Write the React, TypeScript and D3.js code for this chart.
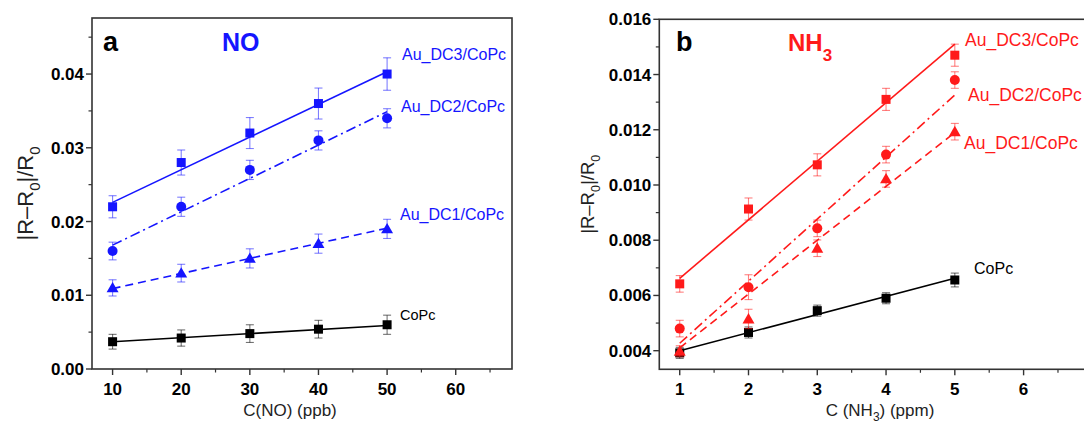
import React from "react";
import * as d3 from "d3";

// ---- Panel a (NO) data ----
const noX = [10, 20, 30, 40, 50];
const noCoPc = [0.0037, 0.0042, 0.0048, 0.0054, 0.006];
const noCoPcErr = [0.001, 0.0011, 0.0012, 0.0012, 0.0013];
const noDC1 = [0.011, 0.013, 0.015, 0.017, 0.019];
const noDC1Err = [0.0011, 0.0012, 0.0013, 0.0013, 0.0013];
const noDC2 = [0.016, 0.022, 0.027, 0.031, 0.034];
const noDC2Err = [0.0012, 0.0013, 0.0013, 0.0013, 0.0013];
const noDC3 = [0.022, 0.028, 0.032, 0.036, 0.04];
const noDC3Err = [0.0015, 0.0017, 0.0021, 0.0021, 0.0022];
const noFitCoPc = [0.0037, 0.0059];
const noFitDC1 = [0.0109, 0.0191];
const noFitDC2 = [0.0168, 0.0349];
const noFitDC3 = [0.0226, 0.0403];
const noXTicks = [10, 20, 30, 40, 50, 60];
const noYTicks = [0, 0.01, 0.02, 0.03, 0.04];

// ---- Panel b (NH3) data ----
const nhX = [1, 2, 3, 4, 5];
const nhCoPc = [0.00392, 0.00466, 0.00545, 0.0059, 0.00656];
const nhCoPcErr = [0.0002, 0.0002, 0.0002, 0.0002, 0.00025];
const nhDC1 = [0.00398, 0.00515, 0.00771, 0.01022, 0.01193];
const nhDC1Err = [0.0002, 0.00035, 0.0003, 0.0003, 0.0003];
const nhDC2 = [0.0048, 0.0063, 0.00843, 0.0111, 0.0138];
const nhDC2Err = [0.0003, 0.00045, 0.0003, 0.0003, 0.0003];
const nhDC3 = [0.00642, 0.00913, 0.01073, 0.0131, 0.0147];
const nhDC3Err = [0.0003, 0.0004, 0.0004, 0.0004, 0.0004];
const nhFitCoPc = [0.004, 0.00662];
const nhFitDC1 = [0.0041, 0.0119];
const nhFitDC2 = [0.00427, 0.01326];
const nhFitDC3 = [0.00662, 0.0151];
const nhXTicks = [1, 2, 3, 4, 5, 6];
const nhYTicks = [0.004, 0.006, 0.008, 0.01, 0.012, 0.014, 0.016];

const FONT = "'Liberation Sans', Arial, sans-serif";
const BLUE = "#1515ff";
const RED = "#ff1a1a";
const BLACK = "#000000";
const AXIS = "#333333";

type Series = {
  ys: number[];
  err: number[];
  fit: number[];
  marker: "square" | "circle" | "triangle";
  color: string;
  dash: string | undefined;
  label: string;
  lx: number;
  ly: number;
  lsize: number;
};

function Marker({ kind, x, y, color }: { kind: string; x: number; y: number; color: string }) {
  if (kind === "square") return <rect x={x - 4.5} y={y - 4.5} width={9} height={9} fill={color} />;
  if (kind === "circle") return <circle cx={x} cy={y} r={5} fill={color} />;
  const sym = d3.symbol(d3.symbolTriangle, 62)();
  return <path d={sym || ""} transform={`translate(${x},${y + 1})`} fill={color} />;
}

function Panel(props: {
  left: number; top: number; right: number; bottom: number;
  xDomain: [number, number]; yDomain: [number, number];
  xs: number[]; series: Series[];
  xTicks: number[]; xMinor: number[]; yTicks: number[]; yMinor: number[];
  yFmt: (v: number) => string;
  letter: string; letterX: number;
  gas: React.ReactNode; gasX: number; gasColor: string; gasSize: number;
  xTitle: React.ReactNode; xTitleX: number;
  yTitleX: number; yTitleSize: number;
}) {
  const { left, top, right, bottom } = props;
  const x = d3.scaleLinear().domain(props.xDomain).range([left, right]);
  const y = d3.scaleLinear().domain(props.yDomain).range([bottom, top]);
  const xf = props.xs;
  const line = d3.line<[number, number]>().x((d) => x(d[0])).y((d) => y(d[1]));
  const ts = props.yTitleSize;
  return (
    <g>
      <rect x={left} y={top} width={right - left} height={bottom - top} fill="none" stroke={AXIS} strokeWidth={1.6} />
      {props.xTicks.map((t) => (
        <g key={"xt" + t}>
          <line x1={x(t)} x2={x(t)} y1={bottom} y2={bottom + 6} stroke={AXIS} strokeWidth={1.4} />
          <text x={x(t)} y={bottom + 26} textAnchor="middle" fontSize={17} fontWeight="bold" fontFamily={FONT}>{t}</text>
        </g>
      ))}
      {props.xMinor.map((t) => (
        <line key={"xm" + t} x1={x(t)} x2={x(t)} y1={bottom} y2={bottom + 3.5} stroke={AXIS} strokeWidth={1.2} />
      ))}
      {props.yTicks.map((t) => (
        <g key={"yt" + t}>
          <line x1={left} x2={left - 6} y1={y(t)} y2={y(t)} stroke={AXIS} strokeWidth={1.4} />
          <text x={left - 8} y={y(t) + 6} textAnchor="end" fontSize={17} fontWeight="bold" fontFamily={FONT}>{props.yFmt(t)}</text>
        </g>
      ))}
      {props.yMinor.map((t) => (
        <line key={"ym" + t} x1={left} x2={left - 3.5} y1={y(t)} y2={y(t)} stroke={AXIS} strokeWidth={1.2} />
      ))}
      <text x={props.xTitleX} y={416} textAnchor="middle" fontSize={17} fontFamily={FONT} fill="#222">{props.xTitle}</text>
      <text transform={`translate(${props.yTitleX},${(top + bottom) / 2}) rotate(-90)`} textAnchor="middle" fontSize={ts} fontFamily={FONT} fill="#222">
        |R–R<tspan fontSize={ts * 0.68} dy={ts * 0.3}>0</tspan><tspan dy={-ts * 0.3}>|/R</tspan><tspan fontSize={ts * 0.68} dy={ts * 0.3}>0</tspan>
      </text>
      <text x={props.letterX} y={51} fontSize={27} fontWeight="bold" fontFamily={FONT}>{props.letter}</text>
      <text x={props.gasX} y={51} fontSize={props.gasSize} fontWeight="bold" fontFamily={FONT} fill={props.gasColor}>{props.gas}</text>
      {props.series.map((s, si) => (
        <g key={"s" + si}>
          <path
            d={line([[xf[0], s.fit[0]], [xf[xf.length - 1], s.fit[1]]]) || ""}
            fill="none" stroke={s.color} strokeWidth={1.6} strokeDasharray={s.dash}
          />
          {s.ys.map((v, i) => (
            <g key={i} stroke={s.color} strokeOpacity={0.55} strokeWidth={1.1}>
              <line x1={x(xf[i])} x2={x(xf[i])} y1={y(v - s.err[i])} y2={y(v + s.err[i])} />
              <line x1={x(xf[i]) - 4} x2={x(xf[i]) + 4} y1={y(v - s.err[i])} y2={y(v - s.err[i])} />
              <line x1={x(xf[i]) - 4} x2={x(xf[i]) + 4} y1={y(v + s.err[i])} y2={y(v + s.err[i])} />
            </g>
          ))}
          {s.ys.map((v, i) => (
            <Marker key={"m" + i} kind={s.marker} x={x(xf[i])} y={y(v)} color={s.color} />
          ))}
          <text x={s.lx} y={s.ly} fontSize={s.lsize} fontFamily={FONT} fill={s.color}>{s.label}</text>
        </g>
      ))}
    </g>
  );
}

export default function App() {
  const noSeries: Series[] = [
    { ys: noCoPc, err: noCoPcErr, fit: noFitCoPc, marker: "square", color: BLACK, dash: undefined, label: "CoPc", lx: 400, ly: 320, lsize: 14.5 },
    { ys: noDC1, err: noDC1Err, fit: noFitDC1, marker: "triangle", color: BLUE, dash: "8,5", label: "Au_DC1/CoPc", lx: 400, ly: 220, lsize: 16 },
    { ys: noDC2, err: noDC2Err, fit: noFitDC2, marker: "circle", color: BLUE, dash: "10,4,2,4", label: "Au_DC2/CoPc", lx: 401, ly: 112, lsize: 16 },
    { ys: noDC3, err: noDC3Err, fit: noFitDC3, marker: "square", color: BLUE, dash: undefined, label: "Au_DC3/CoPc", lx: 402, ly: 60, lsize: 16 },
  ];
  const nhSeries: Series[] = [
    { ys: nhCoPc, err: nhCoPcErr, fit: nhFitCoPc, marker: "square", color: BLACK, dash: undefined, label: "CoPc", lx: 974, ly: 274, lsize: 16 },
    { ys: nhDC1, err: nhDC1Err, fit: nhFitDC1, marker: "triangle", color: RED, dash: "8,5", label: "Au_DC1/CoPc", lx: 964, ly: 149, lsize: 17.5 },
    { ys: nhDC2, err: nhDC2Err, fit: nhFitDC2, marker: "circle", color: RED, dash: "10,4,2,4", label: "Au_DC2/CoPc", lx: 968, ly: 101, lsize: 17.5 },
    { ys: nhDC3, err: nhDC3Err, fit: nhFitDC3, marker: "square", color: RED, dash: undefined, label: "Au_DC3/CoPc", lx: 965, ly: 46, lsize: 17.5 },
  ];
  const range = (a: number, b: number, s: number) => d3.range(0, Math.round((b - a) / s) + 1).map((i) => +(a + i * s).toFixed(6));
  return (
    <svg width={1084} height={423} style={{ position: "absolute", left: 0, top: 0, background: "#fff" }}>
      <rect width={1084} height={423} fill="#fff" />
      <Panel
        left={92} top={18} right={512} bottom={369}
        xDomain={[7, 68.2]} yDomain={[0, 0.0476]}
        xs={noX} series={noSeries}
        xTicks={noXTicks} xMinor={range(15, 65, 10)}
        yTicks={noYTicks} yMinor={range(0.005, 0.045, 0.01)}
        yFmt={(v) => v.toFixed(2)}
        letter="a" letterX={103}
        gas="NO" gasX={222} gasColor={BLUE} gasSize={25}
        xTitle="C(NO) (ppb)" xTitleX={290}
        yTitleX={33} yTitleSize={22}
      />
      <Panel
        left={659.3} top={19.3} right={1113} bottom={369.3}
        xDomain={[0.703, 7.3]} yDomain={[0.003326, 0.016]}
        xs={nhX} series={nhSeries}
        xTicks={nhXTicks} xMinor={range(1.5, 6.5, 1)}
        yTicks={nhYTicks} yMinor={range(0.005, 0.015, 0.002)}
        yFmt={(v) => v.toFixed(3)}
        letter="b" letterX={676}
        gas={<>NH<tspan fontSize={17} dy={10}>3</tspan></>} gasX={788} gasColor={RED} gasSize={24}
        xTitle={<>C (NH<tspan fontSize={12} dy={5}>3</tspan><tspan dy={-5}>) (ppm)</tspan></>} xTitleX={880}
        yTitleX={594} yTitleSize={18.5}
      />
    </svg>
  );
}
